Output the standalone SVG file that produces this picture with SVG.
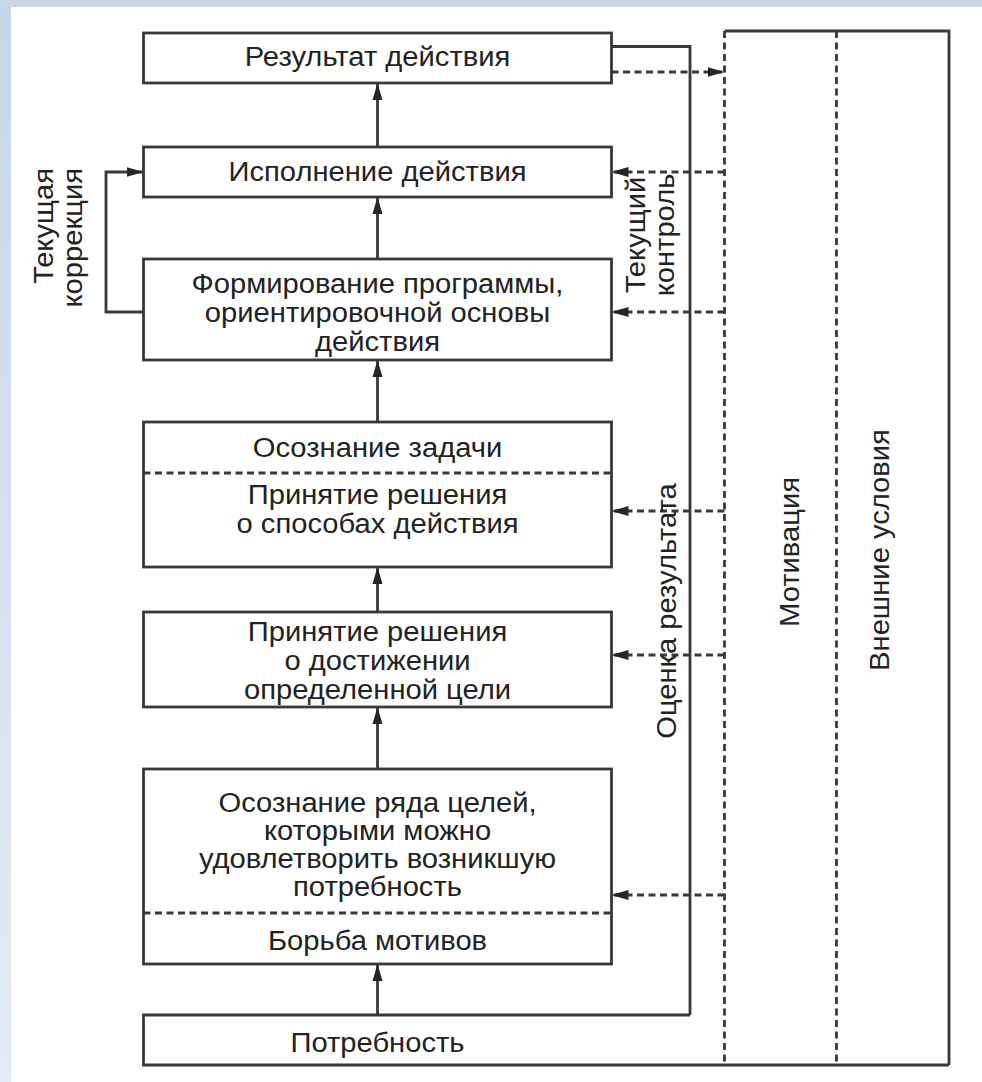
<svg xmlns="http://www.w3.org/2000/svg" width="982" height="1082" viewBox="0 0 982 1082">
<defs>
<linearGradient id="lb" x1="0" y1="0" x2="0" y2="1"><stop offset="0" stop-color="#c6d6e9"/><stop offset="1" stop-color="#e4ebf5"/></linearGradient>
<marker id="ah" viewBox="0 0 17 11" refX="17" refY="5.5" markerWidth="17" markerHeight="11" markerUnits="userSpaceOnUse" orient="auto"><path d="M0,0.5 L17,5.5 L0,10.5 z" fill="#262626"/></marker>
</defs>
<style>
.box{fill:#fff;stroke:#383838;stroke-width:2.8}
.ln{fill:none;stroke:#383838;stroke-width:2.8}
.dash{fill:none;stroke:#383838;stroke-width:2.8;stroke-dasharray:7 4.5}
.t{font-family:"Liberation Sans",Arial,sans-serif;font-size:27px;fill:#222;text-anchor:middle}
.e{text-anchor:end}
</style>
<rect x="0" y="0" width="982" height="1082" fill="#fff"/>
<rect x="0" y="0" width="11" height="1082" fill="url(#lb)"/>
<rect x="0" y="0" width="982" height="7" fill="#c8d8ea"/>

<g id="frame">
<path class="ln" d="M724.5,31 H949 V1065"/>
<path class="dash" d="M724.5,31 V1065"/>
<path class="dash" d="M836.5,31 V1065"/>
<text class="t" transform="translate(799,552) rotate(-90) scale(1.08,1)">Мотивация</text>
<text class="t" transform="translate(889,550) rotate(-90) scale(1.08,1)">Внешние условия</text>
</g>

<g id="n-result">
<rect class="box" x="143.5" y="33" width="468" height="50"/>
<text class="t" transform="translate(377.5,66) scale(1.08,1)">Результат действия</text>
</g>
<g id="n-exec">
<rect class="box" x="143.5" y="147" width="468" height="50"/>
<text class="t" transform="translate(377.5,181) scale(1.08,1)">Исполнение действия</text>
</g>
<g id="n-program">
<rect class="box" x="143.5" y="259" width="468" height="101"/>
<text class="t" transform="translate(377.5,0) scale(1.08,1)"><tspan x="0" y="293">Формирование программы,</tspan><tspan x="0" y="322">ориентировочной основы</tspan><tspan x="0" y="351">действия</tspan></text>
</g>
<g id="n-task">
<rect class="box" x="143.5" y="422" width="468" height="145"/>
<path class="dash" d="M143.5,473 H611.5"/>
<text class="t" transform="translate(377.5,0) scale(1.08,1)"><tspan x="0" y="457">Осознание задачи</tspan><tspan x="0" y="504">Принятие решения</tspan><tspan x="0" y="533">о способах действия</tspan></text>
</g>
<g id="n-goal">
<rect class="box" x="143.5" y="612" width="468" height="95"/>
<text class="t" transform="translate(377.5,0) scale(1.08,1)"><tspan x="0" y="641">Принятие решения</tspan><tspan x="0" y="670">о достижении</tspan><tspan x="0" y="699">определенной цели</tspan></text>
</g>
<g id="n-goals">
<rect class="box" x="143.5" y="769" width="468" height="195"/>
<path class="dash" d="M143.5,913 H611.5"/>
<text class="t" transform="translate(377.5,0) scale(1.08,1)"><tspan x="0" y="812">Осознание ряда целей,</tspan><tspan x="0" y="840">которыми можно</tspan><tspan x="0" y="868">удовлетворить возникшую</tspan><tspan x="0" y="896">потребность</tspan><tspan x="0" y="950">Борьба мотивов</tspan></text>
</g>
<g id="n-need">
<path class="ln" d="M690,1015 H143.5 V1065 H949"/>
<text class="t" transform="translate(377.5,1052) scale(1.08,1)">Потребность</text>
</g>

<g id="connectors">
<path class="ln" marker-end="url(#ah)" d="M377.5,1015 V964"/>
<path class="ln" marker-end="url(#ah)" d="M377.5,769 V707"/>
<path class="ln" marker-end="url(#ah)" d="M377.5,612 V567"/>
<path class="ln" marker-end="url(#ah)" d="M377.5,422 V360"/>
<path class="ln" marker-end="url(#ah)" d="M377.5,259 V197"/>
<path class="ln" marker-end="url(#ah)" d="M377.5,147 V83"/>
<path class="ln" d="M611.5,46.5 H690 V1015"/>
<path class="dash" marker-end="url(#ah)" d="M611.5,72 H724.5"/>
<path class="dash" marker-end="url(#ah)" d="M724.5,172 H611.5"/>
<path class="dash" marker-end="url(#ah)" d="M724.5,312 H611.5"/>
<path class="dash" marker-end="url(#ah)" d="M724.5,511 H611.5"/>
<path class="dash" marker-end="url(#ah)" d="M724.5,655 H611.5"/>
<path class="dash" marker-end="url(#ah)" d="M724.5,895 H611.5"/>
<path class="ln" marker-end="url(#ah)" d="M143.5,312 H106 V172 H143.5"/>
<text class="t e" transform="translate(0,168) rotate(-90) scale(1.08,1)"><tspan x="0" y="53">Текущая</tspan><tspan x="0" y="82">коррекция</tspan></text>
<text class="t" transform="translate(0,235) rotate(-90) scale(1.08,1)"><tspan x="0" y="645">Текущий</tspan><tspan x="0" y="674">контроль</tspan></text>
<text class="t" transform="translate(676,611) rotate(-90) scale(1.08,1)">Оценка результата</text>
</g>
</svg>
